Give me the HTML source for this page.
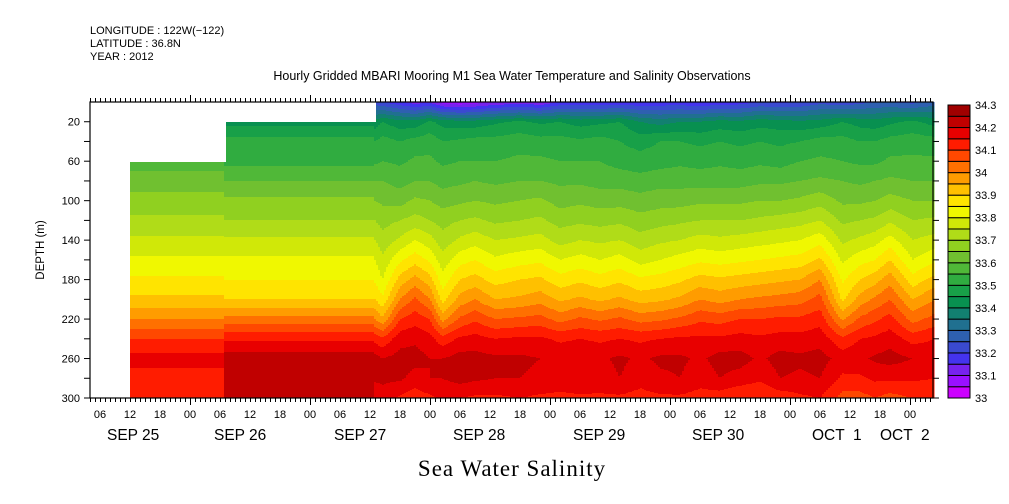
<!DOCTYPE html>
<html><head><meta charset="utf-8"><style>
body{margin:0;background:#fff;width:1009px;height:504px;overflow:hidden}
svg{display:block}
text{font-family:"Liberation Sans",sans-serif;fill:#000}
</style></head><body>
<svg id="chart" width="1009" height="504" viewBox="0 0 1009 504" xmlns="http://www.w3.org/2000/svg">
<text x="90" y="34" font-size="11">LONGITUDE : 122W(−122)</text>
<text x="90" y="47" font-size="11">LATITUDE : 36.8N</text>
<text x="90" y="60" font-size="11">YEAR : 2012</text>
<text x="512" y="80" font-size="12.5" text-anchor="middle">Hourly Gridded MBARI Mooring M1 Sea Water Temperature and Salinity Observations</text>
<text transform="translate(44,250) rotate(-90)" font-size="11.5" text-anchor="middle">DEPTH (m)</text>
<text x="512" y="476" font-size="23" text-anchor="middle" style="font-family:'Liberation Serif',serif;letter-spacing:1px">Sea Water Salinity</text>
<g id="field"></g>
<g id="axes"></g>
<g id="cbar"></g>
</svg>
<script>
const depths=[0,20,40,60,80,100,120,140,160,180,200,220,240,260,280,300];
const times=[12,30.9,31,45,60.9,61,62.5,66,69,72,74.5,78,81,85,90,94,98,102,106,110,114,118,122,126,130,134,138,142,146,150,154.5,158,161,164,168.5,173];
const topDepth=[61,61,20,20,20,0,0,0,0,0,0,0,0,0,0,0,0,0,0,0,0,0,0,0,0,0,0,0,0,0,0,0,0,0,0,0];
const n=null;
const salinity=[
[n,n,n,33.575,33.625,33.67,33.71,33.76,33.81,33.86,33.91,34.0,34.1,34.17,34.13,34.13],
[n,n,n,33.575,33.625,33.67,33.71,33.76,33.81,33.86,33.91,34.0,34.1,34.17,34.13,34.13],
[n,33.43,33.52,33.535,33.6,33.66,33.7,33.76,33.81,33.85,33.9,34.02,34.14,34.23,34.23,34.22],
[n,33.43,33.52,33.535,33.6,33.66,33.7,33.76,33.81,33.85,33.9,34.02,34.14,34.23,34.23,34.22],
[n,33.43,33.52,33.535,33.6,33.66,33.7,33.76,33.81,33.85,33.9,34.02,34.14,34.23,34.23,34.22],
[33.22,33.42,33.5,33.54,33.6,33.65,33.7,33.75,33.8,33.84,33.9,34.0,34.13,34.22,34.21,34.16],
[33.2,33.45,33.52,33.55,33.6,33.64,33.68,33.72,33.76,33.8,33.86,33.96,34.11,34.2,34.21,34.18],
[33.16,33.42,33.5,33.54,33.58,33.63,33.7,33.76,33.84,33.92,34.0,34.1,34.18,34.22,34.21,34.14],
[33.12,33.42,33.52,33.56,33.6,33.66,33.72,33.8,33.88,33.97,34.06,34.13,34.19,34.22,34.18,34.12],
[33.14,33.46,33.53,33.56,33.6,33.65,33.7,33.77,33.84,33.92,34.0,34.1,34.17,34.2,34.2,34.14],
[33.07,33.43,33.5,33.54,33.58,33.63,33.68,33.72,33.77,33.82,33.88,33.98,34.12,34.2,34.2,34.16],
[33.05,33.42,33.51,33.55,33.59,33.64,33.7,33.76,33.83,33.9,33.97,34.06,34.16,34.22,34.22,34.15],
[33.07,33.42,33.52,33.55,33.6,33.65,33.71,33.78,33.85,33.92,34.0,34.09,34.17,34.22,34.21,34.14],
[33.1,33.44,33.52,33.55,33.59,33.64,33.69,33.75,33.81,33.88,33.95,34.05,34.15,34.21,34.2,34.14],
[33.12,33.46,33.53,33.56,33.6,33.65,33.7,33.76,33.83,33.9,33.96,34.06,34.16,34.21,34.2,34.15],
[33.1,33.44,33.52,33.56,33.6,33.66,33.71,33.77,33.84,33.91,33.98,34.07,34.16,34.2,34.19,34.14],
[33.15,33.45,33.52,33.55,33.59,33.63,33.68,33.73,33.8,33.87,33.94,34.03,34.14,34.19,34.17,34.14],
[33.16,33.43,33.51,33.55,33.59,33.64,33.69,33.75,33.82,33.89,33.96,34.06,34.15,34.2,34.19,34.14],
[33.15,33.44,33.52,33.55,33.58,33.63,33.68,33.74,33.8,33.87,33.94,34.04,34.14,34.19,34.18,34.14],
[33.16,33.45,33.5,33.53,33.58,33.63,33.69,33.75,33.82,33.89,33.96,34.06,34.15,34.21,34.2,34.14],
[33.15,33.4,33.48,33.52,33.57,33.62,33.67,33.72,33.78,33.86,33.93,34.03,34.14,34.19,34.17,34.13],
[33.16,33.38,33.5,33.53,33.58,33.63,33.68,33.74,33.8,33.87,33.94,34.04,34.15,34.21,34.19,34.14],
[33.16,33.4,33.5,33.54,33.58,33.63,33.69,33.75,33.82,33.89,33.96,34.06,34.16,34.21,34.2,34.14],
[33.15,33.4,33.49,33.53,33.58,33.64,33.7,33.77,33.84,33.92,34.0,34.09,34.16,34.19,34.17,34.13],
[33.16,33.42,33.5,33.54,33.58,33.64,33.7,33.76,33.83,33.91,33.98,34.08,34.16,34.22,34.2,34.12],
[33.17,33.41,33.49,33.53,33.58,33.64,33.7,33.77,33.84,33.92,34.0,34.1,34.17,34.22,34.18,34.1],
[33.2,33.43,33.5,33.54,33.59,33.65,33.71,33.78,33.85,33.93,34.01,34.1,34.16,34.19,34.16,34.1],
[33.19,33.42,33.49,33.53,33.59,33.65,33.72,33.79,33.86,33.94,34.02,34.11,34.17,34.22,34.2,34.12],
[33.2,33.41,33.5,33.55,33.6,33.66,33.73,33.8,33.87,33.95,34.03,34.11,34.17,34.21,34.19,34.14],
[33.23,33.42,33.52,33.56,33.61,33.68,33.75,33.83,33.91,34.0,34.07,34.13,34.18,34.22,34.2,34.15],
[33.21,33.45,33.52,33.55,33.6,33.64,33.69,33.74,33.79,33.84,33.89,33.99,34.11,34.18,34.14,34.08],
[33.23,33.43,33.5,33.54,33.59,33.64,33.7,33.76,33.83,33.9,33.97,34.06,34.15,34.19,34.14,34.08],
[33.25,33.42,33.5,33.54,33.6,33.65,33.71,33.78,33.85,33.93,34.01,34.09,34.16,34.21,34.16,34.1],
[33.25,33.44,33.52,33.56,33.61,33.67,33.74,33.82,33.9,33.98,34.05,34.12,34.18,34.22,34.16,34.08],
[33.23,33.46,33.53,33.56,33.6,33.65,33.7,33.75,33.8,33.87,33.95,34.03,34.13,34.2,34.16,34.1],
[33.27,33.43,33.52,33.56,33.6,33.65,33.71,33.77,33.84,33.92,34.0,34.07,34.15,34.19,34.15,34.1]
];
const levelColors=["#cc00ff","#9910ff","#7722ee","#4433ee","#3a4ad0","#2e60b0","#207090","#128070","#089050","#18a048","#30ac40","#50b838","#70c030","#90d020","#b0dc18","#d0e808","#f0f800","#ffe400","#ffc000","#ff9c00","#ff7000","#ff4800","#ff1c00","#e80000","#c00000","#a00000"];
const cbarLabels=["33","33.1","33.2","33.3","33.4","33.5","33.6","33.7","33.8","33.9","34","34.1","34.2","34.3"];
const depthTicks=[20,60,100,140,180,220,260,300];
const hourLabels=["06","12","18","00","06","12","18","00","06","12","18","00","06","12","18","00","06","12","18","00","06","12","18","00","06","12","18","00"];
const dateLabels=["SEP 25","SEP 26","SEP 27","SEP 28","SEP 29","SEP 30","OCT  1","OCT  2"];
const dateX=[107,214,334,453,573,692,812,880];

const X0=90,X1=933,Y0=102,Y1=398;
const xOf=h=>70+5*h;
const hOf=x=>(x-70)/5;
const yOf=d=>Y0+d*(Y1-Y0)/300;
const dOf=y=>(y-Y0)*300/(Y1-Y0);
const NS="http://www.w3.org/2000/svg";
function mk(tag,attrs,parent){const e=document.createElementNS(NS,tag);for(const k in attrs)e.setAttribute(k,attrs[k]);parent.appendChild(e);return e;}
function colVal(c,d){
  const col=salinity[c];
  let j=Math.min(depths.length-2,Math.floor(d/20));
  let a=col[j],b=col[j+1];
  if(a==null&&b==null)return null;
  if(a==null)return b; if(b==null)return a;
  const f=(d-depths[j])/(depths[j+1]-depths[j]);
  return a+(b-a)*f;
}
const field=document.getElementById('field');
const step=2;
for(let px=X0;px<X1;px+=step){
  const h=hOf(px+step/2);
  if(h<times[0])continue;
  let i=0;while(i<times.length-2&&times[i+1]<h)i++;
  const t=Math.max(0,Math.min(1,(h-times[i])/(times[i+1]-times[i])));
  const top=topDepth[i];
  let runStart=null,runLvl=null;
  const flush=(yEnd)=>{if(runStart!==null){const r=mk('rect',{x:px,y:runStart,width:step+0.5,height:yEnd-runStart+0.5,fill:levelColors[runLvl]},field);
    
    }};
  for(let py=Y0;py<Y1;py++){
    const d=dOf(py+0.5);
    if(d<top){continue;}
    let a=colVal(i,d),b=colVal(i+1,d);
    if(a==null)a=b; if(b==null)b=a;
    const s=a+(b-a)*t;
    let lv=Math.floor((s-33)/0.05+1e-9);lv=Math.max(0,Math.min(25,lv));
    if(lv!==runLvl){flush(py);runStart=py;runLvl=lv;}
  }
  flush(Y1);
}
const axes=document.getElementById('axes');
mk('rect',{x:X0,y:Y0,width:X1-X0,height:Y1-Y0,fill:'none',stroke:'#000','stroke-width':1.2},axes);
for(let hr=4;hr<=172;hr++){
  const x=xOf(hr)+0.5; const major=(hr%24===0);
  const L=major?7:4;
  mk('line',{x1:x,y1:Y0,x2:x,y2:Y0-L,stroke:'#000','stroke-width':1},axes);
  mk('line',{x1:x,y1:Y1,x2:x,y2:Y1+L,stroke:'#000','stroke-width':1},axes);
}
for(let d=20;d<=300;d+=20){
  const y=yOf(d);
  mk('line',{x1:X0,y1:y,x2:X0-6,y2:y,stroke:'#000'},axes);
  mk('line',{x1:X1,y1:y,x2:X1+6,y2:y,stroke:'#000'},axes);
}
depthTicks.forEach(d=>{const t=mk('text',{x:X0-10,y:yOf(d)+4,'font-size':11,'text-anchor':'end'},axes);t.textContent=d;
  
  });
hourLabels.forEach((l,k)=>{const t=mk('text',{x:xOf(6+6*k),y:418,'font-size':11,'text-anchor':'middle'},axes);t.textContent=l;
  
  });
dateLabels.forEach((l,k)=>{const t=mk('text',{x:dateX[k],y:440,'font-size':15.5},axes);t.textContent=l;t.style.whiteSpace='pre';
  
  });
const cbar=document.getElementById('cbar');
const CX=948,CW=22,CT=105,CB=398,bh=(CB-CT)/levelColors.length;
levelColors.forEach((c,k)=>{const r=mk('rect',{x:CX,y:CB-(k+1)*bh,width:CW,height:bh,fill:c,stroke:'#000','stroke-width':1},cbar);
  
  });
cbarLabels.forEach((l,k)=>{const t=mk('text',{x:975,y:CB-k*2*bh+4,'font-size':11},cbar);t.textContent=l;
  
  });
</script>
</body></html>
